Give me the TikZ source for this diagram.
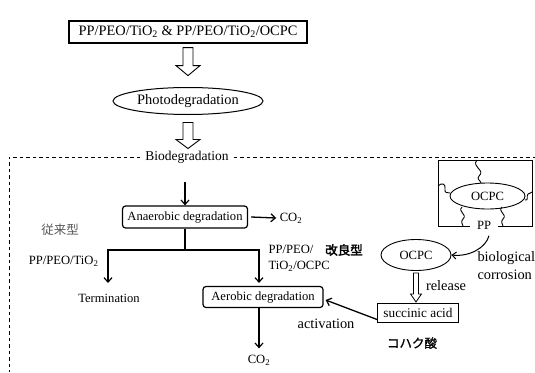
\documentclass[tikz,border=0pt]{standalone}
\usepackage{fontspec}
\setmainfont{Liberation Serif}
\newfontfamily\cjk{Noto Sans CJK JP}
\newfontfamily\cjkb[FakeBold=2.5]{Noto Sans CJK JP}
\newfontfamily\cjkm[FakeBold=1.2]{Noto Sans CJK JP}
\usetikzlibrary{arrows.meta,shapes.geometric,calc}
\begin{document}
\begin{tikzpicture}[x=1pt,y=-1pt,
  big/.style={font=\fontsize{14.4}{18}\selectfont},
  mid/.style={font=\fontsize{13.5}{15}\selectfont},
  sml/.style={font=\fontsize{12.6}{16}\selectfont},
  conn/.style={line width=1.3pt,-{Straight Barb[length=4.5pt,width=8pt,line width=1.2pt]}},
  conn2/.style={line width=1pt,-{Straight Barb[length=4pt,width=7pt,line width=1pt]}},
  rbox/.style={draw,line width=1.2pt,rounded corners=3pt,inner sep=0pt,sml},
  hollow/.style={draw,line width=0.9pt,fill=white},
  dsh/.style={line width=0.8pt,dash pattern=on 3.5pt off 3pt},
  thin/.style={line width=0.9pt}]
\useasboundingbox (0,0) rectangle (535,372);

% top part
\node[draw,line width=1.2pt,minimum width=238pt,minimum height=22pt,inner sep=0pt,big] (top) at (188,32) {PP/PEO/TiO\textsubscript{2} \& PP/PEO/TiO\textsubscript{2}/OCPC};
\node[draw,ellipse,line width=1pt,minimum width=150pt,minimum height=27pt,inner sep=0pt,big] (photo) at (188,101) {Photodegradation};
\draw[hollow] ($(top.south)+(-5,4)$) -- ++(0,18) -- ++(-7,0) -- ++(12,10) -- ++(12,-10) -- ++(-7,0) -- ++(0,-18) -- cycle;
\draw[hollow] ($(photo.south)+(-5,7.5)$) -- ++(0,17) -- ++(-7,0) -- ++(12,9) -- ++(12,-9) -- ++(-7,0) -- ++(0,-17) -- cycle;

% biodegradation frame
\node[mid,inner sep=5pt] (bio) at (187,157) {Biodegradation};
\coordinate (dl) at (9,157);
\coordinate (db) at (9,372);
\coordinate (dr) at (535,157);
\draw[dsh] (bio.west) -- (dl) -- (db);
\draw[dsh] (bio.east) -- (dr);

% left flow
\coordinate (a0) at (185,182);
\node[rbox,minimum width=125pt,minimum height=22pt] (ana) at (185,217) {Anaerobic degradation};
\draw[conn] (a0) -- (ana.north);
\node[sml] (co2a) at (291,218) {CO\textsubscript{2}};
\draw[conn] ($(ana.east)+(3,0)$) -- (co2a.west);

\coordinate (br) at (185,250);
\coordinate (tl) at (108,283);
\coordinate (tr) at (259,283);
\draw[line width=1.3pt] (ana.south) -- (br);
\draw[conn] (br) -| (tl);
\draw[conn] (br) -| (tr);

\node[font=\cjk\fontsize{12.5}{14}\selectfont,text=black!65] (ju) at (60,230) {従来型};
\node[sml,anchor=east] (lab1) at (102,261) {PP/PEO/TiO\textsubscript{2}};
\node[sml,anchor=west,align=left] (lab2) at (265,258) {PP/PEO/\\TiO\textsubscript{2}/OCPC};
\node[font=\cjkb\fontsize{12.5}{14}\selectfont] (kai) at (344,250) {改良型};
\node[sml] (term) at (109,298) {Termination};
\node[rbox,minimum width=120pt,minimum height=21pt] (aer) at (263,297) {Aerobic degradation};
\node[sml] (co2b) at (259,360) {CO\textsubscript{2}};
\draw[conn] ($(aer.south)+(-4,0)$) -- ($(co2b.north)+(-0,-3)$);

% right part: PP with OCPC
\draw[thin] (470,226) -- (438,226) -- (438,160) -- (532,160) -- (532,226) -- (498,226);
\node[sml] (pp) at (484,225) {PP};
\node[draw,ellipse,thin,minimum width=75pt,minimum height=26pt,inner sep=0pt,sml] (oc1) at (487.5,196) {OCPC};
\draw[thin] (477,160) .. controls (471,167) and (486,170) .. (479,176) .. controls (476,179) and (481,181) .. (481,183);
\draw[thin] (438,186) .. controls (442,182) and (446,184) .. (445,189) .. controls (444,193) and (448,193) .. (450,193);
\draw[thin] (525,200) .. controls (529,201) and (526,196) .. (528,194) .. controls (530,192) and (531,194) .. (532,192);
\draw[thin] (462,207) .. controls (457,212) and (468,214) .. (463,219) .. controls (460,222) and (463,224) .. (463,226);
\draw[thin] (502,207) .. controls (497,212) and (508,214) .. (503,219) .. controls (500,222) and (503,224) .. (503,226);

\node[draw,ellipse,thin,minimum width=70pt,minimum height=31pt,inner sep=0pt,sml] (oc2) at (416,255) {OCPC};
\draw[conn2] ($(pp.south)+(5,3)$) .. controls +(-3,12) and +(18,2) .. (oc2.east);
\node[big,align=left,anchor=west] (bc) at (474,266) {biological\\corrosion};

\draw[hollow,line width=0.8pt] ($(oc2.south)+(-2.5,2)$) -- ++(0,21) -- ++(-3,0) -- ++(5.5,8) -- ++(5.5,-8) -- ++(-3,0) -- ++(0,-21) -- cycle;
\node[big] (rel) at (446,286) {release};
\node[draw,thin,minimum width=81pt,minimum height=19pt,inner sep=0pt,font=\fontsize{13.3}{15}\selectfont] (suc) at (418,312.5) {succinic acid};
\draw[conn] ($(suc.west)+(0,7)$) -- ($(aer.east)+(2,3)$);
\node[big] (act) at (326,324) {activation};
\node[font=\cjkm\fontsize{12.5}{14}\selectfont] (koh) at (412,343) {コハク酸};
\end{tikzpicture}
\end{document}
